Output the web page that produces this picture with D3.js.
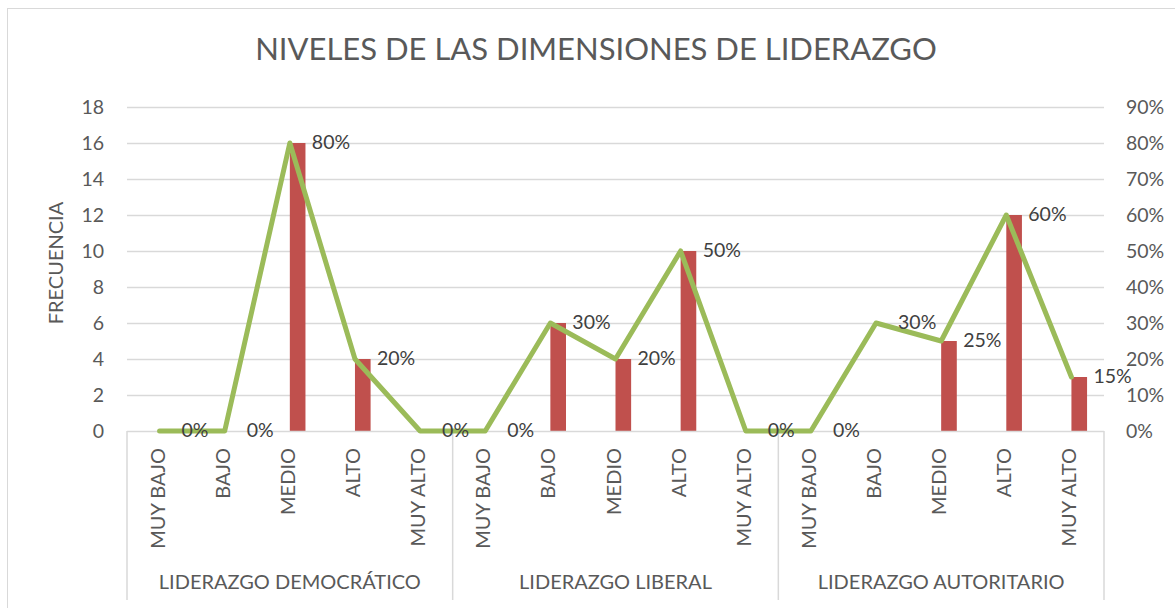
<!DOCTYPE html>
<html>
<head>
<meta charset="utf-8">
<script src="https://cdn.jsdelivr.net/npm/d3@7"></script>
<style>
  html, body { margin: 0; padding: 0; background: #fff; }
  svg { display: block; font-family: Lato, "Open Sans", sans-serif; }
</style>
</head>
<body>
<svg id="chart" width="1175" height="608"></svg>
<script>
const title = "NIVELES DE LAS DIMENSIONES DE LIDERAZGO";
const yTitle = "FRECUENCIA";
const groups = ["LIDERAZGO DEMOCRÁTICO", "LIDERAZGO LIBERAL", "LIDERAZGO AUTORITARIO"];
const levels = ["MUY BAJO", "BAJO", "MEDIO", "ALTO", "MUY ALTO"];
const frecuencia = [0, 0, 16, 4, 0,  0, 6, 4, 10, 0,  0, 0, 5, 12, 3];
const porcentaje = [0, 0, 0.80, 0.20, 0,  0, 0.30, 0.20, 0.50, 0,  0, 0.30, 0.25, 0.60, 0.15];
const leftTicks = [0, 2, 4, 6, 8, 10, 12, 14, 16, 18];
const rightTicks = [0, 0.1, 0.2, 0.3, 0.4, 0.5, 0.6, 0.7, 0.8, 0.9];

(function () {
const data = [];
groups.forEach((g, gi) => levels.forEach((l, li) => {
  const i = gi * levels.length + li;
  data.push({ key: i, group: g, level: l, f: frecuencia[i], p: porcentaje[i] });
}));

const svg = d3.select("#chart");
const textColor = "#595959";
const gridColor = "#d9d9d9";

const pLeft = 127, pRight = 1104, pTop = 107, pBottom = 431;

const x = d3.scaleBand().domain(data.map(d => d.key)).range([pLeft, pRight]).paddingInner(0).paddingOuter(0);
const y = d3.scaleLinear().domain([0, 18]).range([pBottom, pTop]);
const y2 = d3.scaleLinear().domain([0, 0.9]).range([pBottom, pTop]);
const cx = k => x(k) + x.bandwidth() / 2;

// chart border
svg.append("rect").attr("x", 7.5).attr("y", 8.5).attr("width", 1200).attr("height", 700)
  .attr("fill", "none").attr("stroke", gridColor).attr("stroke-width", 1);

// title
svg.append("text").attr("x", 596).attr("y", 52).attr("text-anchor", "middle")
  .attr("dominant-baseline", "middle").attr("fill", textColor)
  .attr("font-size", 31).attr("font-weight", 400).text(title);

// gridlines
svg.append("g").selectAll("line").data(leftTicks.filter(t => t > 0)).join("line")
  .attr("x1", pLeft).attr("x2", pRight)
  .attr("y1", d => Math.round(y(d)) + 0.5).attr("y2", d => Math.round(y(d)) + 0.5)
  .attr("stroke", gridColor).attr("stroke-width", 1.3);

// left axis
const gl = svg.append("g").attr("transform", `translate(${pLeft},0)`)
  .call(d3.axisLeft(y).tickValues(leftTicks).tickSize(0).tickPadding(23));
gl.select(".domain").remove();
gl.selectAll("text").attr("fill", textColor).attr("font-size", 19.5).attr("font-family", "Lato, sans-serif");

// right axis
const gr = svg.append("g").attr("transform", `translate(${pRight},0)`)
  .call(d3.axisRight(y2).tickValues(rightTicks).tickFormat(d3.format(".0%")).tickSize(0).tickPadding(22));
gr.select(".domain").remove();
gr.selectAll("text").attr("fill", textColor).attr("font-size", 19.5).attr("font-family", "Lato, sans-serif");

// y title
svg.append("text").attr("transform", `translate(58,263) rotate(-90)`)
  .attr("text-anchor", "middle").attr("dominant-baseline", "middle")
  .attr("fill", textColor).attr("font-size", 20).text(yTitle);

// bars
svg.append("g").selectAll("rect").data(data).join("rect")
  .attr("x", d => cx(d.key))
  .attr("width", x.bandwidth() * 0.24)
  .attr("y", d => y(d.f))
  .attr("height", d => y(0) - y(d.f))
  .attr("fill", "#C0504D");

// x axis line and group separators
svg.append("line").attr("x1", pLeft).attr("x2", pRight).attr("y1", pBottom + 0.5).attr("y2", pBottom + 0.5)
  .attr("stroke", gridColor).attr("stroke-width", 1.5);
const sepIdx = [0, 5, 10, 15];
svg.append("g").selectAll("line").data(sepIdx).join("line")
  .attr("x1", i => i < 15 ? x(i) : pRight).attr("x2", i => i < 15 ? x(i) : pRight)
  .attr("y1", pBottom).attr("y2", 600)
  .attr("stroke", gridColor).attr("stroke-width", 1.5);

// line series
const line = d3.line().x(d => cx(d.key)).y(d => y2(d.p));
svg.append("path").datum(data).attr("d", line)
  .attr("fill", "none").attr("stroke", "#9BBB59").attr("stroke-width", 5)
  .attr("stroke-linejoin", "round").attr("stroke-linecap", "round");

// data labels
svg.append("g").selectAll("text").data(data).join("text")
  .attr("x", d => cx(d.key) + 22)
  .attr("y", d => y2(d.p) + 1)
  .attr("dominant-baseline", "middle")
  .attr("fill", "#404040").attr("font-size", 19.5)
  .text(d => d3.format(".0%")(d.p));

// inner category labels (rotated)
svg.append("g").selectAll("text").data(data).join("text")
  .attr("transform", d => `translate(${cx(d.key)},448) rotate(-90)`)
  .attr("text-anchor", "end").attr("dominant-baseline", "middle")
  .attr("fill", textColor).attr("font-size", 20)
  .text(d => d.level);

// group labels
svg.append("g").selectAll("text").data(groups).join("text")
  .attr("x", (g, gi) => (x(gi * 5) + (gi < 2 ? x(gi * 5 + 5) : pRight)) / 2)
  .attr("y", 584).attr("text-anchor", "middle").attr("dominant-baseline", "middle")
  .attr("fill", textColor).attr("font-size", 20)
  .text(g => g);
})();
</script>
</body>
</html>
